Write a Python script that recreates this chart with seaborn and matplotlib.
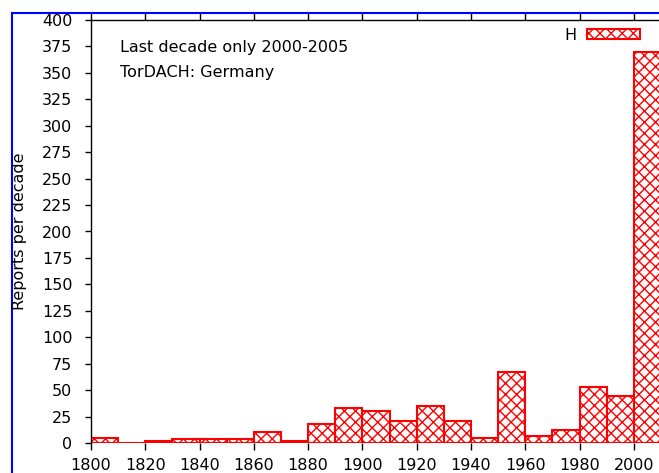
import matplotlib
matplotlib.use("Agg")
import matplotlib.pyplot as plt
import matplotlib.patches as mpatches
import numpy as np
import pandas as pd
import seaborn as sns

# decade start years and reports per decade
decades = [1800, 1810, 1820, 1830, 1840, 1850, 1860, 1870, 1880, 1890, 1900,
           1910, 1920, 1930, 1940, 1950, 1960, 1970, 1980, 1990, 2000]
reports = [5, 0, 2, 4, 4, 4, 10, 2, 18, 33, 30,
           21, 35, 21, 5, 67, 7, 12, 53, 44, 370]
x_ticks = [1800, 1820, 1840, 1860, 1880, 1900, 1920, 1940, 1960, 1980, 2000]
y_ticks = list(range(0, 401, 25))

df = pd.DataFrame({"decade": decades, "reports": reports})

sns.set_style("ticks")
plt.rcParams["font.family"] = ["DejaVu Sans"]
plt.rcParams["text.color"] = "black"
plt.rcParams["xtick.color"] = "black"
plt.rcParams["ytick.color"] = "black"
plt.rcParams["hatch.color"] = "red"
plt.rcParams["hatch.linewidth"] = 1.0
fs = 11.5

W, H = 659, 473
fig = plt.figure(figsize=(W / 100, H / 100), dpi=100)
# axes run past the right edge, like the cropped original
ax = fig.add_axes([91 / W, (H - 443) / H, 570 / W, 423 / H])

sns.histplot(data=df, x="decade", weights="reports", binwidth=10,
             binrange=(1800, 2010), color="white", edgecolor="red",
             linewidth=1.5, alpha=1, ax=ax)
for p in ax.patches:
    p.set_hatch("xxx")

ax.set_xlim(1800, 2010)
ax.set_ylim(0, 400)
ax.set_xticks(x_ticks)
ax.set_yticks(y_ticks)
ax.set_xlabel("")
ax.set_ylabel("")
ax.tick_params(axis="y", direction="out", length=4.5, width=1, pad=9, labelsize=fs)
ax.tick_params(axis="x", direction="out", length=5, width=1, pad=6, labelsize=fs,
               top=True)
for s in ["left", "top"]:
    ax.spines[s].set_linewidth(1.0)
    ax.spines[s].set_color("black")
ax.spines["bottom"].set_visible(False)
ax.spines["right"].set_visible(False)

fig.text(20 / W, 1 - 231.5 / H, "Reports per decade", rotation=90,
         ha="center", va="center", fontsize=fs)
ax.text(0.051, 0.936, "Last decade only 2000-2005", transform=ax.transAxes,
        ha="left", va="center", fontsize=fs)
ax.text(0.051, 0.875, "TorDACH: Germany", transform=ax.transAxes,
        ha="left", va="center", fontsize=fs)

handle = mpatches.Patch(facecolor="white", edgecolor="red", hatch="xxx",
                        linewidth=1.5)
ax.legend([handle], ["H"], loc="upper right", bbox_to_anchor=(0.963, 0.982),
          frameon=False, markerfirst=False, handlelength=3.3, handleheight=0.67,
          handletextpad=0.69, borderpad=0, borderaxespad=0, fontsize=fs)

# blue frame around the figure
fig.patches.append(mpatches.Rectangle((12 / W, -0.1), 1.2, 1 - 13 / H + 0.1,
                                      transform=fig.transFigure, fill=False,
                                      edgecolor="blue", linewidth=1.5))

fig.savefig("out.png", dpi=100)
